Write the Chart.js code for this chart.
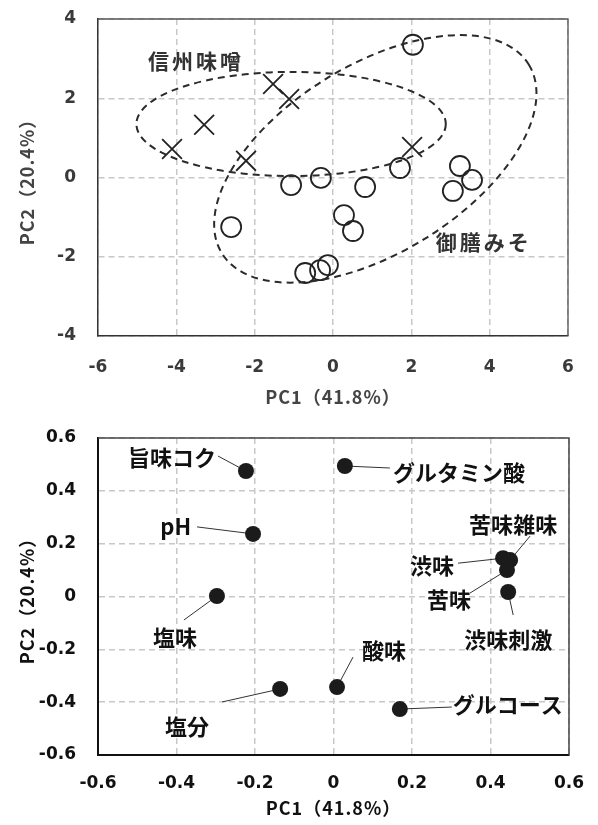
<!DOCTYPE html>
<html>
<head>
<meta charset="utf-8">
<script src="https://cdn.jsdelivr.net/npm/chart.js@4.4.1/dist/chart.umd.min.js"></script>
<style>
	html, body { margin: 0; padding: 0; background: #fff; }
	#wrap { position: relative; width: 598px; height: 825px; }
	#scores { position: absolute; left: 0; top: 0; }
	#loadings { position: absolute; left: 0; top: 410px; }
</style>
</head>
<body>
<div id="wrap">
	<canvas id="scores" width="598" height="410"></canvas>
	<canvas id="loadings" width="598" height="415"></canvas>
</div>
<script>
// 主成分得点
var shinshuPC1 = [-4.11, -3.29, -2.22, -1.53, -1.12, 2.02];
var shinshuPC2 = [0.72, 1.33, 0.42, 2.36, 1.98, 0.77];
var gozenPC1 = [-2.60, -1.07, -0.31, -0.71, -0.33, -0.13, 0.28, 0.51, 0.82, 1.71, 2.04, 3.06, 3.24, 3.55];
var gozenPC2 = [-1.25, -0.19, -0.01, -2.41, -2.34, -2.21, -0.95, -1.35, -0.24, 0.24, 3.35, -0.34, 0.29, -0.06];
var scoreTicksX = [-6, -4, -2, 0, 2, 4, 6];
var scoreTicksY = [-4, -2, 0, 2, 4];

// 主成分負荷量
var loadingNames = ['旨味コク', 'グルタミン酸', 'pH', '苦味雑味', '渋味', '苦味', '渋味刺激', '塩味', '酸味', '塩分', 'グルコース'];
var loadingPC1 = [-0.223, 0.029, -0.205, 0.450, 0.432, 0.442, 0.445, -0.297, 0.009, -0.136, 0.169];
var loadingPC2 = [0.475, 0.494, 0.237, 0.138, 0.145, 0.100, 0.017, 0.002, -0.343, -0.350, -0.426];
var loadingTicks = [-0.6, -0.4, -0.2, 0, 0.2, 0.4, 0.6];

var titlePC1 = 'PC1（41.8%）';
var titlePC2 = 'PC2（20.4%）';

// group ellipses (center in data units, radii in x-units, angle in degrees)
var groupEllipses = [
	{ name: '信州味噌', cx: -1.07, cy: 1.35, rx: 3.95, ry: 1.33, angle: 0, lx: -3.5, ly: 2.94 },
	{ name: '御膳みそ', cx: 1.08, cy: 0.47, rx: 4.6, ry: 2.4, angle: 31.6, lx: 3.85, ly: -1.63 }
];

// label placement around each loading point (pixel offsets)
var labelLayout = {
	'旨味コク':   { tx: -30, ty: -13, align: 'right',  lx: -28, ly: -15 },
	'pH':         { tx: -62, ty: -7,  align: 'right',  lx: -56, ly: -7 },
	'塩味':       { tx: -42, ty: 42,  align: 'center', lx: -33, ly: 24 },
	'塩分':       { tx: -93, ty: 38,  align: 'center', lx: -58, ly: 13 },
	'酸味':       { tx: 25,  ty: -36, align: 'left',   lx: 16,  ly: -30 },
	'グルコース': { tx: 53,  ty: -4,  align: 'left',   lx: 52,  ly: -2 },
	'グルタミン酸': { tx: 48, ty: 7,  align: 'left',   lx: 45,  ly: 2 },
	'苦味雑味':   { tx: 3,   ty: -35, align: 'center', lx: 20,  ly: -24 },
	'渋味':       { tx: -49, ty: 7,   align: 'right',  lx: -45, ly: 5 },
	'苦味':       { tx: -36, ty: 30,  align: 'right',  lx: -37, ly: 23 },
	'渋味刺激':   { tx: 0,   ty: 48,  align: 'center', lx: 5,   ly: 23 }
};

var tickFont = { family: '"DejaVu Sans"', size: 17, weight: 'bold' };
var jpFont = '"Noto Sans CJK JP", "Noto Sans", sans-serif';

function toPoints(xs, ys) {
	return xs.map(function(v, i) { return { x: v, y: ys[i] }; });
}

function makeScales(ticksX, ticksY, opt) {
	var fixTicks = function(arr) {
		return function(scale) { scale.ticks = arr.map(function(v) { return { value: v }; }); };
	};
	var common = function(arr) {
		return {
			type: 'linear',
			min: arr[0],
			max: arr[arr.length - 1],
			afterBuildTicks: fixTicks(arr),
			grid: { color: '#c8c8c8', lineWidth: 1.5, drawTicks: false },
			border: { display: true, color: opt.axisColor, width: opt.axisWidth, dash: [6, 4] },
			ticks: { color: opt.tickColor, font: tickFont, callback: function(v) { return String(v); } }
		};
	};
	var x = common(ticksX);
	x.position = 'bottom';
	x.ticks.padding = opt.xPad;
	x.afterFit = function(s) {
		s.height = opt.xHeight;
		s.paddingLeft = 0;
		s.paddingRight = 0;
	};
	var y = common(ticksY);
	y.position = 'left';
	y.ticks.padding = 22;
	y.afterFit = function(s) {
		s.width = 98;
		s.paddingTop = 0;
		s.paddingBottom = 0;
	};
	return { x: x, y: y };
}

function drawFrame(chart, color, width) {
	var ctx = chart.ctx, a = chart.chartArea;
	ctx.save();
	ctx.strokeStyle = color;
	ctx.lineWidth = width;
	ctx.beginPath();
	ctx.moveTo(a.left, a.top);
	ctx.lineTo(a.right, a.top);
	ctx.lineTo(a.right, a.bottom);
	ctx.stroke();
	ctx.restore();
}

function drawTitles(chart, color, yTitleX, xTitleY) {
	var ctx = chart.ctx, a = chart.chartArea;
	ctx.save();
	ctx.fillStyle = color;
	ctx.font = 'bold 18px ' + jpFont;
	ctx.letterSpacing = '1px';
	ctx.textAlign = 'center';
	ctx.textBaseline = 'middle';
	ctx.fillText(titlePC1, (a.left + a.right) / 2, xTitleY);
	ctx.translate(yTitleX, (a.top + a.bottom) / 2);
	ctx.rotate(-Math.PI / 2);
	ctx.fillText(titlePC2, 0, 0);
	ctx.restore();
}

var scoreDecor = {
	id: 'scoreDecor',
	beforeDatasetsDraw: function(chart) {
		drawFrame(chart, '#555', 1.3);
	},
	afterDatasetsDraw: function(chart) {
		var ctx = chart.ctx, xs = chart.scales.x, ys = chart.scales.y;
		var unit = xs.getPixelForValue(1) - xs.getPixelForValue(0);
		groupEllipses.forEach(function(e) {
			ctx.save();
			ctx.setLineDash([7, 5]);
			ctx.lineWidth = 2;
			ctx.strokeStyle = '#2b2b2b';
			ctx.beginPath();
			ctx.ellipse(xs.getPixelForValue(e.cx), ys.getPixelForValue(e.cy), e.rx * unit, e.ry * unit,
				-e.angle * Math.PI / 180, 0, Math.PI * 2);
			ctx.stroke();
			ctx.restore();

			ctx.save();
			ctx.fillStyle = '#333';
			ctx.font = 'bold 21px ' + jpFont;
			ctx.letterSpacing = '3px';
			ctx.textAlign = 'center';
			ctx.textBaseline = 'middle';
			ctx.fillText(e.name, xs.getPixelForValue(e.lx), ys.getPixelForValue(e.ly));
			ctx.restore();
		});
	},
	afterDraw: function(chart) {
		drawTitles(chart, '#444', 27, 397);
	}
};

var loadingDecor = {
	id: 'loadingDecor',
	beforeDatasetsDraw: function(chart) {
		drawFrame(chart, '#444', 1.5);
		var ctx = chart.ctx, xs = chart.scales.x, ys = chart.scales.y;
		ctx.save();
		ctx.strokeStyle = '#333';
		ctx.lineWidth = 1;
		loadingNames.forEach(function(n, i) {
			var l = labelLayout[n];
			var px = xs.getPixelForValue(loadingPC1[i]), py = ys.getPixelForValue(loadingPC2[i]);
			ctx.beginPath();
			ctx.moveTo(px + l.lx, py + l.ly);
			ctx.lineTo(px, py);
			ctx.stroke();
		});
		ctx.restore();
	},
	afterDatasetsDraw: function(chart) {
		var ctx = chart.ctx, xs = chart.scales.x, ys = chart.scales.y;
		ctx.save();
		ctx.fillStyle = '#111';
		ctx.font = 'bold 22px ' + jpFont;
		ctx.textBaseline = 'middle';
		loadingNames.forEach(function(n, i) {
			var l = labelLayout[n];
			var px = xs.getPixelForValue(loadingPC1[i]), py = ys.getPixelForValue(loadingPC2[i]);
			ctx.textAlign = l.align;
			ctx.fillText(n, px + l.tx, py + l.ty);
		});
		ctx.restore();
	},
	afterDraw: function(chart) {
		drawTitles(chart, '#111', 27, 398);
	}
};

new Chart(document.getElementById('scores'), {
	type: 'scatter',
	data: {
		datasets: [{
			label: '御膳みそ',
			data: toPoints(gozenPC1, gozenPC2),
			pointStyle: 'circle',
			pointRadius: 10,
			pointBorderWidth: 1.8,
			pointBorderColor: '#222',
			pointBackgroundColor: 'rgba(255,255,255,0)'
		}, {
			label: '信州味噌',
			data: toPoints(shinshuPC1, shinshuPC2),
			pointStyle: 'crossRot',
			pointRadius: 14,
			pointBorderWidth: 1.8,
			pointBorderColor: '#222'
		}]
	},
	options: {
		responsive: false,
		animation: false,
		events: [],
		layout: { padding: { top: 19, right: 30, left: 0, bottom: 0 } },
		plugins: { legend: { display: false }, tooltip: { enabled: false } },
		scales: makeScales(scoreTicksX, scoreTicksY, { axisColor: '#333', axisWidth: 1.5, tickColor: '#3a3a3a', xPad: 21, xHeight: 74 })
	},
	plugins: [scoreDecor]
});

new Chart(document.getElementById('loadings'), {
	type: 'scatter',
	data: {
		datasets: [{
			label: '負荷量',
			data: toPoints(loadingPC1, loadingPC2),
			pointStyle: 'circle',
			pointRadius: 8,
			pointBorderWidth: 0,
			pointBackgroundColor: '#1b1b1b'
		}]
	},
	options: {
		responsive: false,
		animation: false,
		events: [],
		layout: { padding: { top: 28, right: 29, left: 0, bottom: 0 } },
		plugins: { legend: { display: false }, tooltip: { enabled: false } },
		scales: makeScales(loadingTicks, loadingTicks, { axisColor: '#111', axisWidth: 2, tickColor: '#111', xPad: 18, xHeight: 70 })
	},
	plugins: [loadingDecor]
});
</script>
</body>
</html>
